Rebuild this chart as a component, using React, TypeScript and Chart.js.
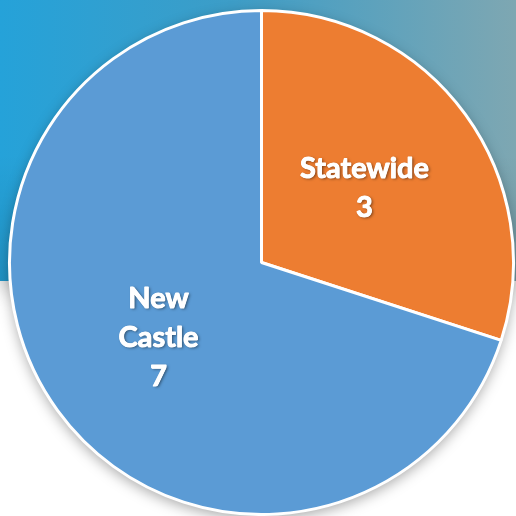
import React, { useEffect, useRef } from "react";
import { Chart, registerables } from "chart.js";

Chart.register(...registerables);

const categories: string[] = ["Statewide", "New Castle"];
const counts: number[] = [3, 7];
const sliceColors: string[] = ["#ED7D31", "#5B9BD5"];

const labelPlugin = {
  id: "sliceLabels",
  beforeDatasetsDraw(chart: any) {
    const meta = chart.getDatasetMeta(0);
    const arc = meta.data[0];
    if (!arc) return;
    const { x, y, outerRadius } = arc.getProps(["x", "y", "outerRadius"], true);
    const ctx = chart.ctx;
    ctx.save();
    ctx.shadowColor = "rgba(0,0,0,0.35)";
    ctx.shadowBlur = 14;
    ctx.shadowOffsetX = 0;
    ctx.shadowOffsetY = 4;
    ctx.beginPath();
    ctx.arc(x, y, outerRadius, 0, Math.PI * 2);
    ctx.fillStyle = "#ffffff";
    ctx.fill();
    ctx.restore();
  },
  afterDatasetsDraw(chart: any) {
    const meta = chart.getDatasetMeta(0);
    const ctx = chart.ctx;
    ctx.save();
    ctx.font = "bold 29px Lato";
    ctx.textAlign = "center";
    ctx.textBaseline = "middle";
    ctx.fillStyle = "#ffffff";
    ctx.strokeStyle = "#ffffff";
    ctx.lineWidth = 0.9;
    ctx.lineJoin = "round";
    meta.data.forEach((el: any, i: number) => {
      const { x, y, startAngle, endAngle, outerRadius } = el.getProps(
        ["x", "y", "startAngle", "endAngle", "outerRadius"],
        true
      );
      const mid = (startAngle + endAngle) / 2;
      const r = outerRadius * 0.505;
      const cx = x + Math.cos(mid) * r;
      const cy = y + Math.sin(mid) * r;
      const name = categories[i];
      const lines = name === "New Castle" ? ["New", "Castle", String(counts[i])] : [name, String(counts[i])];
      const lh = 39;
      const start = cy - ((lines.length - 1) * lh) / 2;
      lines.forEach((t, k) => {
        const ty = start + k * lh;
        ctx.shadowColor = "rgba(0,0,0,0.5)";
        ctx.shadowBlur = 3;
        ctx.shadowOffsetX = 1.5;
        ctx.shadowOffsetY = 1.5;
        ctx.fillText(t, cx, ty);
        ctx.shadowColor = "rgba(0,0,0,0)";
        ctx.strokeText(t, cx, ty);
        ctx.fillText(t, cx, ty);
      });
    });
    ctx.restore();
  },
};

export default function App() {
  const ref = useRef<HTMLCanvasElement>(null);
  useEffect(() => {
    document.body.style.margin = "0";
    const chart = new Chart(ref.current!, {
      type: "pie",
      data: {
        labels: categories,
        datasets: [
          {
            data: counts,
            backgroundColor: sliceColors,
            borderColor: "#ffffff",
            borderWidth: 3,
          },
        ],
      },
      options: {
        responsive: false,
        animation: false,
        layout: { padding: { left: 7, right: 0, top: 9, bottom: 0 } },
        plugins: {
          legend: { display: false },
          tooltip: { enabled: false },
        },
      },
      plugins: [labelPlugin],
    });
    return () => chart.destroy();
  }, []);
  return (
    <div
      style={{
        position: "fixed",
        left: 0,
        top: 0,
        width: 516,
        height: 516,
        background: "#ffffff",
        overflow: "hidden",
      }}
    >
      <div
        style={{
          position: "absolute",
          left: 0,
          top: 0,
          width: 516,
          height: 281,
          background:
            "linear-gradient(to bottom, rgba(0,0,0,0) 55%, rgba(0,0,0,0.1)), linear-gradient(to right, #25A2D9 0%, #3D9DC7 45%, #7EA7B2 100%)",
          boxShadow: "0 6px 22px rgba(0,0,0,0.28)",
        }}
      />
      <canvas ref={ref} width={516} height={516} style={{ position: "absolute", left: 0, top: 0 }} />
    </div>
  );
}
